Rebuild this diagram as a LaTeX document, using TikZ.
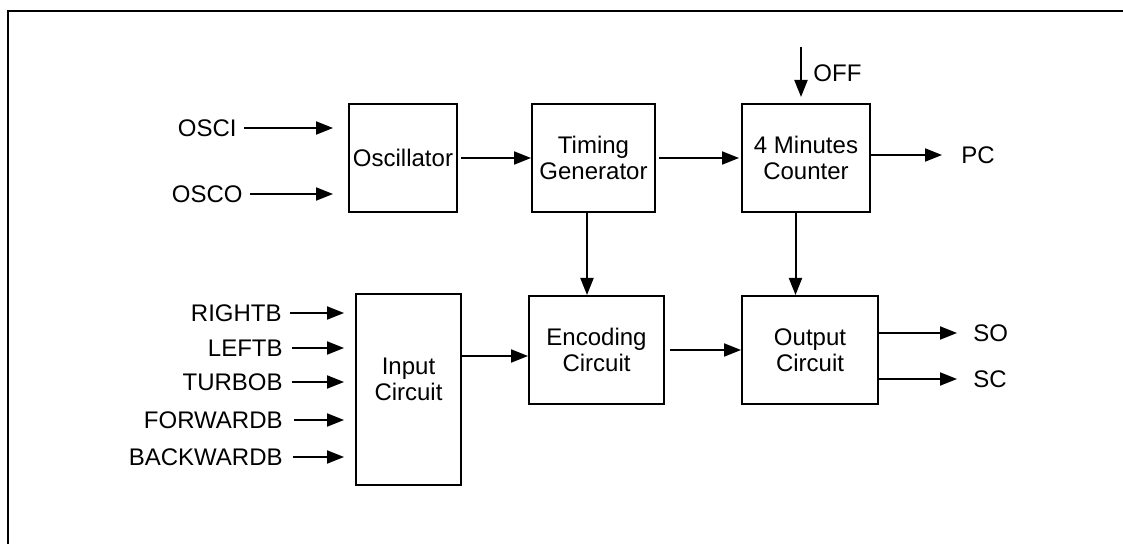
\documentclass[tikz,border=0pt]{standalone}
\usepackage{fontspec}
\setmainfont{Liberation Sans}
\usetikzlibrary{arrows.meta}
\begin{document}
\begin{tikzpicture}[x=0.5pt,y=-0.5pt,
  every node/.style={font=\fontsize{12}{13}\selectfont},
  blk/.style={draw,line width=1pt,rectangle,inner sep=0pt,align=center},
  lbl/.style={inner sep=0pt},
  arr/.style={line width=1pt,-{Triangle[length=8.5pt,width=6.5pt]}}]
\useasboundingbox (0,0) rectangle (1123,544);
% frame
\draw[line width=1pt] (8.3,560) -- (8.3,11) -- (1140,11);
% blocks
\node[blk,minimum width=54pt,minimum height=54pt] (osc) at (403,158) {Oscillator};
\node[blk,minimum width=61.5pt,minimum height=54pt] (tim) at (593.5,158) {Timing\\Generator};
\node[blk,minimum width=64pt,minimum height=54pt] (cnt) at (806,158) {4 Minutes\\Counter};
\node[blk,minimum width=52.5pt,minimum height=95.5pt] (inp) at (408.5,389.5) {};
\node[lbl,align=center] (inptxt) at (408.5,379) {Input\\Circuit};
\node[blk,minimum width=67.5pt,minimum height=54pt] (enc) at (596.5,350) {Encoding\\Circuit};
\node[blk,minimum width=68pt,minimum height=54pt] (out) at (810,350) {Output\\Circuit};
% labels
\node[lbl,anchor=east] (osci) at (237,128) {OSCI};
\node[lbl,anchor=east] (osco) at (243,194) {OSCO};
\node[lbl,anchor=east] (rb) at (282,313) {RIGHTB};
\node[lbl,anchor=east] (lb) at (283,348) {LEFTB};
\node[lbl,anchor=east] (tb) at (283,382) {TURBOB};
\node[lbl,anchor=east] (fb) at (283,420) {FORWARDB};
\node[lbl,anchor=east] (bb) at (283,457) {BACKWARDB};
\node[lbl,anchor=west] (off) at (813,73) {OFF};
\node[lbl,anchor=west] (pc) at (961,155) {PC};
\node[lbl,anchor=west] (so) at (973,333) {SO};
\node[lbl,anchor=west] (sc) at (973,379) {SC};
% coordinates
\coordinate (offtop) at (801,47);
\coordinate (tdn) at ([xshift=-3.25pt]tim.south);
\coordinate (cdn) at ([xshift=-5.25pt]cnt.south);
\coordinate (ie) at ([yshift=16.75pt]inp.east);
% connectors
\draw[arr,shorten <=3.5pt,shorten >=7.5pt] (osci.east) -- (osci.east -| osc.west);
\draw[arr,shorten <=3.5pt,shorten >=7.5pt] (osco.east) -- (osco.east -| osc.west);
\foreach \n/\s in {rb/4,lb/4.3,tb/4.3,fb/5.5,bb/4.8}
  \draw[arr,shorten <=\s pt,shorten >=5.5pt] (\n.east) -- (\n.east -| inp.west);
\draw[arr,shorten <=1.5pt] (osc.east) -- (tim.west);
\draw[arr,shorten <=1.5pt,shorten >=1pt] (tim.east) -- (cnt.west);
\draw[arr,shorten >=3pt] (offtop) -- (offtop |- cnt.north);
\draw[arr,shorten >=9.5pt] (pc.west -| cnt.east) -- (pc.west);
\draw[arr] (tdn) -- (tdn |- enc.north);
\draw[arr] (cdn) -- (cdn |- out.north);
\draw[arr] (ie) -- (ie -| enc.west);
\draw[arr,shorten <=2.5pt] (enc.east) -- (out.west);
\draw[arr,shorten >=8pt] (so.west -| out.east) -- (so.west);
\draw[arr,shorten >=8pt] (sc.west -| out.east) -- (sc.west);
\end{tikzpicture}
\end{document}
